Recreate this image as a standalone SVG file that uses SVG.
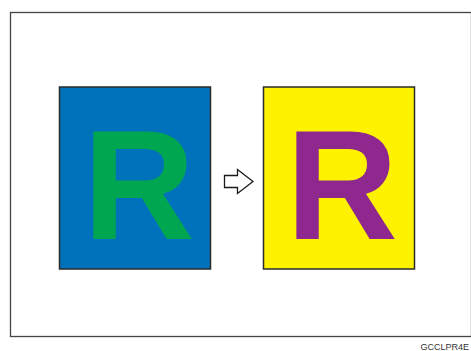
<svg xmlns="http://www.w3.org/2000/svg" width="471" height="351" viewBox="0 0 471 351">
<style>
.card{stroke:#2a2a2a;stroke-width:1.5}
.big{font-family:"Liberation Sans",Arial,sans-serif;font-weight:bold;font-size:155px;text-anchor:middle}
.code{font-family:"Liberation Sans",Arial,sans-serif;font-size:9px;fill:#333}
</style>
<rect width="471" height="351" fill="#fff"/>
<rect x="10.5" y="12.5" width="461" height="324" fill="none" stroke="#444" stroke-width="1.3"/>
<g id="original">
<rect class="card" x="59.5" y="87" width="151" height="182" fill="#0071bb"/>
<text class="big" x="139" y="239" fill="#00a650">R</text>
</g>
<g id="result">
<rect class="card" x="263.5" y="87" width="151" height="182" fill="#fff200"/>
<text class="big" x="342" y="239" fill="#8e288f">R</text>
</g>
<g id="connectors">
<path d="M224.5 175.5 H237.5 V169.5 L253 181.5 L237.5 193.5 V187.5 H224.5 Z" fill="#fff" stroke="#1a1a1a" stroke-width="1.3" stroke-linejoin="miter"/>
</g>
<text class="code" x="469" y="349.5" text-anchor="end">GCCLPR4E</text>
</svg>
